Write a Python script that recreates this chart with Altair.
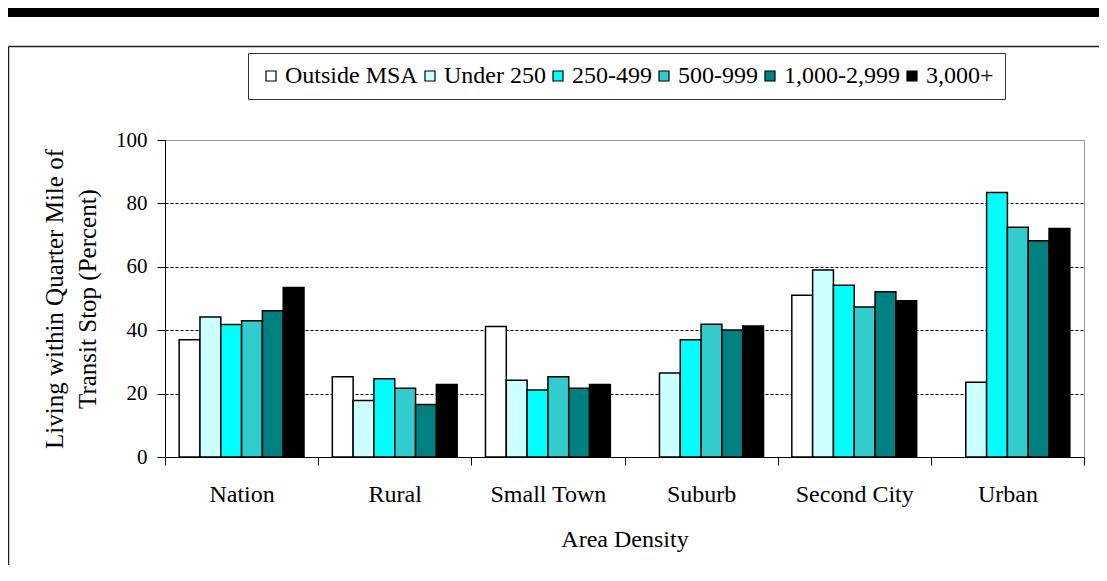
import altair as alt
import pandas as pd

categories = ["Nation", "Rural", "Small Town", "Suburb", "Second City", "Urban"]
series = ["Outside MSA", "Under 250", "250-499", "500-999", "1,000-2,999", "3,000+"]
colors = ["#FFFFFF", "#CCFFFF", "#00FFFF", "#33CCCC", "#008080", "#000000"]

outside_msa = [37.0, 25.3, 41.2, None, 51.0, None]
under_250 = [44.2, 17.8, 24.2, 26.5, 59.0, 23.6]
d250_499 = [41.8, 24.7, 21.1, 37.0, 54.2, 83.4]
d500_999 = [43.0, 21.7, 25.3, 41.9, 47.3, 72.5]
d1000_2999 = [46.1, 16.6, 21.7, 40.1, 52.1, 68.2]
d3000_plus = [53.5, 22.9, 22.9, 41.3, 49.3, 72.1]

y_ticks = [0, 20, 40, 60, 80, 100]

rows = []
for s, vals in zip(series, [outside_msa, under_250, d250_499, d500_999, d1000_2999, d3000_plus]):
    for c, v in zip(categories, vals):
        if v is not None:
            rows.append({"Area": c, "Series": s, "Value": v})
df = pd.DataFrame(rows)

W, H = 919, 317
PAD = {"left": 157, "top": 132, "right": 15, "bottom": 108}
FONT = "Liberation Serif"

bars = alt.Chart(df).mark_bar(stroke="black", strokeWidth=1.5).encode(
    x=alt.X("Area:N", sort=categories,
            scale=alt.Scale(domain=categories, paddingInner=0, paddingOuter=0),
            axis=alt.Axis(title="Area Density", labelAngle=0, labelFontSize=24,
                          labelPadding=17, tickSize=8, tickBand="extent",
                          titleFontSize=24, titlePadding=21, grid=False,
                          labelLimit=0)),
    xOffset=alt.XOffset("Series:N", sort=series,
                        scale=alt.Scale(domain=series, paddingInner=0, paddingOuter=0.68)),
    y=alt.Y("Value:Q", scale=alt.Scale(domain=[0, 100]),
            axis=alt.Axis(values=y_ticks,
                          title=["Living within Quarter Mile of", "Transit Stop (Percent)"],
                          titleAngle=270, titleX=-111, titleY=158.5,
                          titleAlign="center", titleBaseline="middle",
                          titleLineHeight=33, titleFontSize=25,
                          labelFontSize=21, labelPadding=10, tickSize=8,
                          grid=True, gridColor="black", gridDash=[3, 2], gridWidth=1,
                          gridOpacity={"condition": {"test": "datum.value >= 100 || datum.value <= 0", "value": 0}, "value": 1})),
    color=alt.Color("Series:N", sort=series,
                    scale=alt.Scale(domain=series, range=colors),
                    legend=alt.Legend(title=None, orient="none", legendX=83, legendY=-87,
                                      direction="horizontal", columns=6,
                                      symbolType="square", symbolSize=100,
                                      symbolStrokeColor="black", symbolStrokeWidth=1.2,
                                      labelFont=FONT, labelFontSize=24, labelColor="black",
                                      labelOffset=2, labelLimit=0, columnPadding=0,
                                      strokeColor="#333333", fillColor="white", padding=11)),
)

deco = alt.Data(values=[{"k": 1}])

frame_top = alt.Chart(deco).mark_rule(color="#222222", strokeWidth=1.5).encode(
    x=alt.value(-156.5), x2=alt.value(W + 40), y=alt.value(-93.5)
)
frame_left = alt.Chart(deco).mark_rule(color="#222222", strokeWidth=1.5).encode(
    x=alt.value(-156.5), y=alt.value(-93.5), y2=alt.value(H + 150)
)
topbar = alt.Chart(deco).mark_rect(color="black").encode(
    x=alt.value(-160), x2=alt.value(W + 40), y=alt.value(-132), y2=alt.value(-123)
)

chart = alt.layer(frame_top, frame_left, topbar, bars).properties(
    width=W, height=H, padding=PAD, autosize=alt.AutoSizeParams(type="none")
).configure(
    font=FONT
).configure_view(
    stroke="#999999", strokeWidth=1
).configure_axis(
    domainColor="black", tickColor="black", labelColor="black", titleColor="black",
    labelFont=FONT, titleFont=FONT, titleFontWeight="normal"
)

chart.save("out.html", embed_options={"renderer": "svg", "actions": False})
